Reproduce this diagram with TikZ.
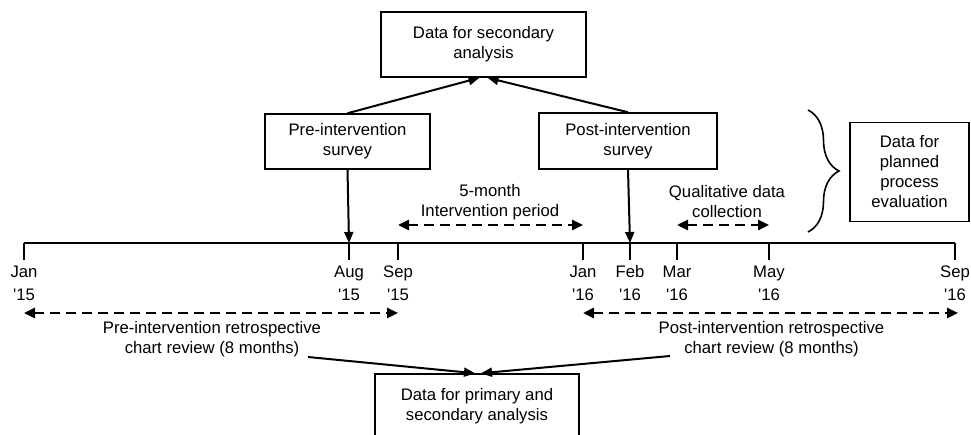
\documentclass[tikz,border=0pt]{standalone}
\usepackage{fontspec}
\setmainfont{Liberation Sans}
\usetikzlibrary{arrows.meta,decorations.pathreplacing}
\begin{document}
\begin{tikzpicture}[x=1pt, y=1pt, >={Triangle[length=11pt,width=9pt]}, every node/.style={font=\fontsize{16.7}{20}\selectfont}]
	\tikzstyle{block} = [rectangle, draw, line width=1.5pt, align=center, inner sep=0pt]
	\tikzstyle{txt} = [align=center, inner sep=0pt]
	\tikzstyle{dashspan} = [dash pattern=on 10pt off 6pt, line width=2.6pt, {Triangle[length=11pt,width=10pt]}-{Triangle[length=11pt,width=10pt]}]
	\useasboundingbox (0,0) rectangle (971,434);
	\node[block,minimum width=205pt,minimum height=65pt](data-sec)at (483.5,389.5){Data for secondary\\analysis};
	\node[block,minimum width=165pt,minimum height=55pt](survey-pre)at (347.5,292.5){Pre-intervention\\survey};
	\node[block,minimum width=178pt,minimum height=56pt](survey-post)at (628,293){Post-intervention\\survey};
	\node[block,minimum width=119pt,minimum height=99pt](data-eval)at (909.5,262){Data for\\planned\\process\\evaluation};
	\node[block,minimum width=204pt,minimum height=65pt](data-prim)at (477,27.5){Data for primary and\\secondary analysis};
	% timeline
	\foreach \x/\m/\yr in {24/Jan/15, 349/Aug/15, 398/Sep/15, 583/Jan/16, 630/Feb/16, 677/Mar/16, 769/May/16, 955/Sep/16}{
		\coordinate (t\m\yr) at (\x,191);
		\draw[line width=1.9pt] (t\m\yr) -- ++(0,-17);
		\node[txt,anchor=base](m\m\yr)at (\x,157){\m};
		\node[txt,anchor=base](y\m\yr)at (\x,134){\textquotesingle\yr};
	}
	\draw[line width=2pt] (tJan15) -- (tSep16);
	% periods
	\node[txt](interv)at (490,232){5-month\\Intervention period};
	\node[txt](quali)at (727,232.5){Qualitative data\\collection};
	\node[txt](retro-pre)at (212,94.5){Pre-intervention retrospective\\chart review (8 months)};
	\node[txt](retro-post)at (771.5,94.5){Post-intervention retrospective\\chart review (8 months)};
	\draw[dashspan] ([yshift=18pt]tSep15) -- ([yshift=18pt]tJan16);
	\draw[dashspan] ([yshift=18pt]tMar16) -- ([yshift=18pt]tMay16);
	\draw[dashspan] ([yshift=-70pt]tJan15) -- ([yshift=-70pt]tSep15);
	\draw[dashspan] ([yshift=-70pt]tJan16) -- ([shift={(3pt,-70pt)}]tSep16);
	\coordinate (pre-end) at (308,77);
	\coordinate (post-end) at (670,78);
	\draw[line width=1.6pt, decorate, decoration={brace, amplitude=31pt}] (808,324) -- (808,202);
	\path[->, line width=2pt] (survey-pre.north) edge ([xshift=-4pt]data-sec.south)
	(survey-post.north) edge ([xshift=4pt]data-sec.south)
	(survey-pre.south) edge (tAug15)
	(survey-post.south) edge (tFeb16)
	(pre-end) edge ([xshift=-2pt]data-prim.north)
	(post-end) edge ([xshift=4pt]data-prim.north);
\end{tikzpicture}
\end{document}
